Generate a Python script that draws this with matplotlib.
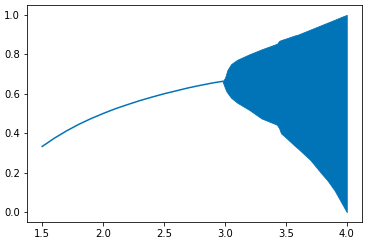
import numpy as np
import matplotlib
matplotlib.use("Agg")
import matplotlib.pyplot as plt

# -*- values -*-
# single stable branch (r < 3)
r_single = [1.5, 1.6, 1.7, 1.8, 1.9, 2.0, 2.1, 2.2, 2.3, 2.4, 2.5, 2.6, 2.7, 2.8, 2.9, 2.98]
x_single = [0.333, 0.375, 0.412, 0.445, 0.474, 0.50, 0.524, 0.545, 0.565, 0.583, 0.60, 0.615, 0.63, 0.643, 0.655, 0.663]

# oscillating band envelope (r >= 3)
r_band = [2.98, 3.0, 3.01, 3.02, 3.05, 3.1, 3.2, 3.3, 3.42, 3.43, 3.445, 3.46, 3.5, 3.57,
          3.6, 3.7, 3.8, 3.84, 3.9, 3.95, 4.0]
x_upper = [0.663, 0.68, 0.70, 0.72, 0.75, 0.772, 0.80, 0.825, 0.852, 0.855, 0.868, 0.872, 0.88, 0.895,
           0.90, 0.925, 0.95, 0.96, 0.975, 0.988, 1.0]
x_lower = [0.663, 0.63, 0.615, 0.605, 0.58, 0.555, 0.518, 0.475, 0.445, 0.44, 0.425, 0.40, 0.378, 0.338,
           0.322, 0.265, 0.19, 0.162, 0.11, 0.055, 0.0]

colour = '#0173b7'

fig = plt.figure(figsize=(372 / 72, 245 / 72), dpi=72)
ax = fig.add_axes([27 / 372, 1 - 222 / 245, 335 / 372, 217 / 245])

ax.plot(r_single, x_single, color=colour, lw=1.5)
ax.fill_between(r_band, x_lower, x_upper, color=colour, lw=0.8, edgecolor=colour)

ax.set_xlim(1.375, 4.125)
ax.set_ylim(-0.05, 1.05)
ax.set_xticks([1.5, 2.0, 2.5, 3.0, 3.5, 4.0])
ax.set_yticks([0.0, 0.2, 0.4, 0.6, 0.8, 1.0])
ax.tick_params(labelsize=10)

fig.savefig("out.png", dpi=72)
